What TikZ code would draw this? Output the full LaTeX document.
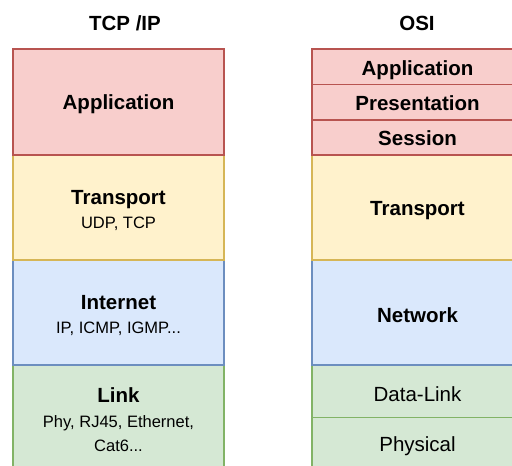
\documentclass[tikz,border=0pt]{standalone}
\usepackage{fontspec}
\setmainfont{Liberation Sans}
\definecolor{redfill}{HTML}{F8CECC}\definecolor{redline}{HTML}{B85450}
\definecolor{yelfill}{HTML}{FFF2CC}\definecolor{yelline}{HTML}{D6B656}
\definecolor{bluefill}{HTML}{DAE8FC}\definecolor{blueline}{HTML}{6C8EBF}
\definecolor{grnfill}{HTML}{D5E8D4}\definecolor{grnline}{HTML}{82B366}
% smaller second-line font for the protocol lists
\newcommand\sublabel{\fontsize{16.5}{24.5}\selectfont}
% invisible strut on the first line: lowers the text block slightly in its box
\newcommand\lead[1][20pt]{\rule{0pt}{#1}}
\tikzset{
  layer/.style={draw, line width=1.1pt, inner sep=0pt, outer sep=0pt,
    minimum width=211pt, anchor=north west, align=center,
    font=\fontsize{20.5}{24.5}\selectfont},
  redlayer/.style={layer, fill=redfill, draw=redline},
  yellayer/.style={layer, fill=yelfill, draw=yelline},
  bluelayer/.style={layer, fill=bluefill, draw=blueline},
  grnlayer/.style={layer, fill=grnfill, draw=grnline},
  title/.style={font=\fontsize{20.5}{24.5}\selectfont\bfseries, inner sep=0pt}
}
\begin{document}
\begin{tikzpicture}[x=1pt,y=-1pt]
  \useasboundingbox (0,0) rectangle (512,466);
  \clip (0,0) rectangle (512,466);
  \fill[white] (0,0) rectangle (512,466);

  % column headings
  \node[title] (tcpip) at (125,23) {TCP /IP};
  \node[title] (osi) at (417,23) {OSI};

  % TCP/IP model (drawn bottom-up so upper borders stay on top)
  \node[grnlayer, minimum height=105pt] (link) at (13,365)
    {{\lead\bfseries Link}\\{\sublabel Phy, RJ45, Ethernet,}\\{\sublabel Cat6...}};
  \node[bluelayer, minimum height=105pt] (inet) at (13,260)
    {{\lead\bfseries Internet}\\{\sublabel IP, ICMP, IGMP...}};
  \node[yellayer, minimum height=105pt] (ttrans) at (13,155)
    {{\lead\bfseries Transport}\\{\sublabel UDP, TCP}};
  \node[redlayer, minimum height=106pt] (tapp) at (13,49)
    {\lead\bfseries Application};

  % OSI model
  \node[grnlayer, minimum height=52.5pt] (phys) at (312,417.7) {\lead Physical};
  \node[grnlayer, minimum height=52.7pt] (dlink) at (312,365) {\lead Data-Link};
  \node[bluelayer, minimum height=105pt] (net) at (312,260) {\lead\bfseries Network};
  \node[yellayer, minimum height=105pt] (otrans) at (312,155) {\lead\bfseries Transport};
  \node[redlayer, minimum height=35pt] (sess) at (312,120) {\lead[17pt]\bfseries Session};
  \node[redlayer, minimum height=35.7pt] (pres) at (312,84.3) {\lead[17pt]\bfseries Presentation};
  \node[redlayer, minimum height=35.3pt] (oapp) at (312,49) {\lead[22pt]\bfseries Application};
\end{tikzpicture}
\end{document}
